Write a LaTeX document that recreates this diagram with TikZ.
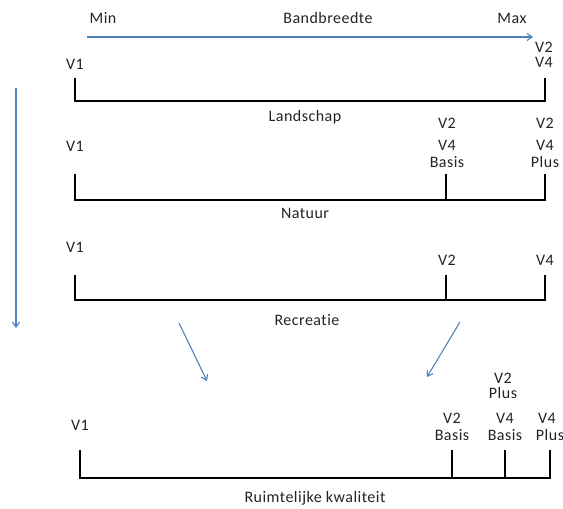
\documentclass[tikz,border=0pt]{standalone}
\usepackage{fontspec}
\setmainfont{Carlito}[LetterSpace=3,Ligatures={NoCommon}]
\usetikzlibrary{arrows.meta}
\definecolor{arrowblue}{RGB}{79,129,189}
\definecolor{txt}{RGB}{35,35,35}
\tikzset{
  lbl/.style={inner sep=0pt, text=txt, font=\fontsize{16}{16}\selectfont},
  bracket/.style={line width=2.4pt, black, line join=miter},
  tick/.style={line width=2.4pt, black},
  flow/.style={arrowblue, line width=1.1pt, -{Straight Barb[length=5pt,width=7pt]}}
}
\begin{document}
\begin{tikzpicture}[x=1pt,y=-1pt]
\useasboundingbox (0,0) rectangle (563,509);
% header
\node[lbl] (min) at (103,18) {Min};
\node[lbl] (bw) at (328,18) {Bandbreedte};
\node[lbl] (max) at (512,18) {Max};
\coordinate (a0) at (87,37);
\coordinate (a1) at (533,37);
\draw[flow] (a0) -- (a1);
% row 1: Landschap
\node[lbl] (l-v2) at (544,47) {V2};
\node[lbl] (l-v4) at (544,62) {V4};
\node[lbl] (l-v1) at (75,64) {V1};
\coordinate (b1a) at (75,78);
\coordinate (b1b) at (75,101);
\coordinate (b1c) at (545,101);
\coordinate (b1d) at (545,78);
\draw[bracket] (b1a) -- (b1b) -- (b1c) -- (b1d);
\node[lbl] (land) at (305,117) {Landschap};
% row 2: Natuur
\node[lbl] (n-v2a) at (447,123) {V2};
\node[lbl] (n-v2b) at (545,123) {V2};
\node[lbl] (n-v1) at (75,146) {V1};
\node[lbl] (n-v4a) at (447,145) {V4};
\node[lbl] (n-ba) at (447,162) {Basis};
\node[lbl] (n-v4b) at (545,145) {V4};
\node[lbl] (n-pl) at (545,162) {Plus};
\coordinate (b2a) at (75,174);
\coordinate (b2b) at (75,200);
\coordinate (b2c) at (545,200);
\coordinate (b2d) at (545,174);
\coordinate (b2m) at (446,174);
\coordinate (b2n) at (446,200);
\draw[bracket] (b2a) -- (b2b) -- (b2c) -- (b2d);
\draw[tick] (b2m) -- (b2n);
\node[lbl] (nat) at (305,213) {Natuur};
% row 3: Recreatie
\node[lbl] (r-v1) at (75,247) {V1};
\node[lbl] (r-v2) at (447,260) {V2};
\node[lbl] (r-v4) at (545,260) {V4};
\coordinate (b3a) at (75,275);
\coordinate (b3b) at (75,300);
\coordinate (b3c) at (545,300);
\coordinate (b3d) at (545,275);
\coordinate (b3m) at (446,275);
\coordinate (b3n) at (446,300);
\draw[bracket] (b3a) -- (b3b) -- (b3c) -- (b3d);
\draw[tick] (b3m) -- (b3n);
\node[lbl] (rec) at (307,320) {Recreatie};
% flow arrows
\coordinate (la0) at (16,88);
\coordinate (la1) at (16,328);
\draw[flow] (la0) -- (la1);
\coordinate (d1a) at (179,323);
\coordinate (d1b) at (207,381);
\draw[flow] (d1a) -- (d1b);
\coordinate (d2a) at (460,322);
\coordinate (d2b) at (427,377);
\draw[flow] (d2a) -- (d2b);
% row 4: Ruimtelijke kwaliteit
\node[lbl] (k-v2t) at (503,378) {V2};
\node[lbl] (k-plt) at (503,393) {Plus};
\node[lbl] (k-v1) at (80,425) {V1};
\node[lbl] (k-v2) at (452,418) {V2};
\node[lbl] (k-b1) at (452,435) {Basis};
\node[lbl] (k-v4) at (505,418) {V4};
\node[lbl] (k-b2) at (505,435) {Basis};
\node[lbl] (k-v4r) at (547,418) {V4};
\node[lbl] (k-pl) at (550,435) {Plus};
\coordinate (b4a) at (80,450);
\coordinate (b4b) at (80,478);
\coordinate (b4c) at (550,478);
\coordinate (b4d) at (550,450);
\coordinate (b4m) at (452,450);
\coordinate (b4n) at (452,478);
\coordinate (b4p) at (505,450);
\coordinate (b4q) at (505,478);
\draw[bracket] (b4a) -- (b4b) -- (b4c) -- (b4d);
\draw[tick] (b4m) -- (b4n);
\draw[tick] (b4p) -- (b4q);
\node[lbl] (rk) at (315,498) {Ruimtelijke kwaliteit};
\end{tikzpicture}
\end{document}
